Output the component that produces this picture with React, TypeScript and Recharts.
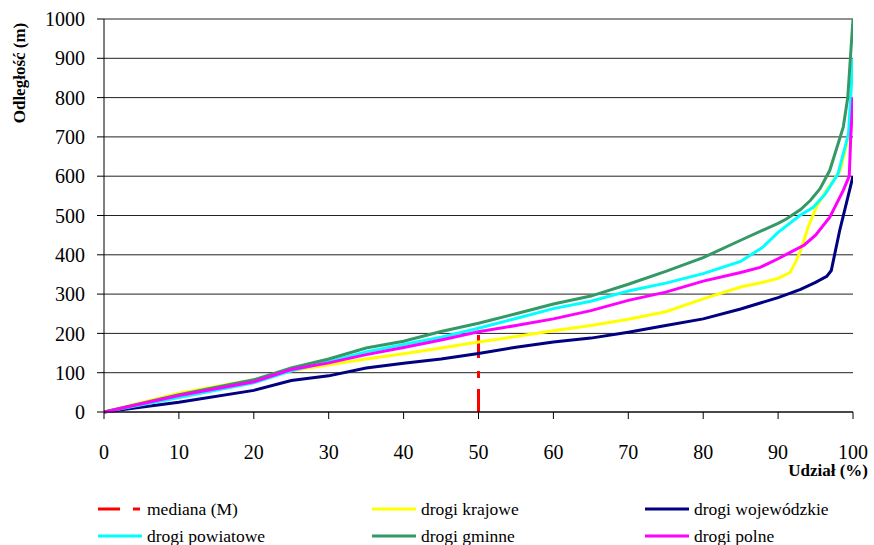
import { LineChart, Line, XAxis, YAxis, CartesianGrid } from 'recharts';

// udział (%) / odległość (m) pairs
const mediana: [number, number][] = [[50, 0], [50, 228]];

const drogiKrajowe: [number, number][] = [
  [0, 0], [10, 48], [20, 82], [25, 105], [30, 120], [35, 135], [40, 148], [45, 163], [50, 178],
  [55, 192], [60, 207], [65, 220], [70, 236], [75, 255], [80, 288], [85, 318], [88, 330], [90, 340],
  [91.6, 355], [92.3, 380], [93, 410], [94, 470], [95.2, 525], [96.5, 565], [98.3, 615], [99.4, 700], [100, 800],
];

const drogiWojewodzkie: [number, number][] = [
  [0, 0], [10, 25], [20, 55], [25, 80], [30, 92], [35, 112], [40, 124], [45, 135], [50, 149],
  [55, 165], [60, 178], [65, 188], [70, 203], [75, 220], [80, 237], [85, 262], [90, 291], [93, 312],
  [95, 330], [96.5, 345], [97.1, 360], [98.2, 460], [100, 600],
];

const drogiPowiatowe: [number, number][] = [
  [0, 0], [10, 37], [20, 74], [25, 105], [30, 128], [35, 153], [40, 172], [45, 190], [50, 213],
  [55, 238], [60, 263], [65, 282], [70, 308], [75, 328], [80, 352], [85, 383], [88, 420], [90, 457],
  [92.9, 500], [94.7, 521], [96.3, 555], [98, 606], [99.4, 708], [100, 900],
];

const drogiGminne: [number, number][] = [
  [0, 0], [10, 44], [20, 82], [25, 112], [30, 135], [35, 163], [40, 180], [45, 205], [50, 226],
  [55, 250], [60, 275], [65, 295], [70, 325], [75, 358], [80, 393], [85, 437], [90, 480], [91.1, 491],
  [93, 515], [94.3, 538], [95.6, 568], [96.9, 615], [98.7, 725], [99.3, 800], [100, 1000],
];

const drogiPolne: [number, number][] = [
  [0, 0], [10, 42], [20, 77], [25, 108], [30, 125], [35, 146], [40, 164], [45, 183], [50, 204],
  [55, 220], [60, 237], [65, 258], [70, 284], [75, 305], [80, 333], [85, 355], [87.6, 368], [90, 390],
  [92, 410], [93.5, 425], [95, 450], [96.9, 496], [98.7, 564], [99.5, 600], [99.7, 700], [100, 800],
];

const xTicks = [0, 10, 20, 30, 40, 50, 60, 70, 80, 90, 100];
const yTicks = [0, 100, 200, 300, 400, 500, 600, 700, 800, 900, 1000];

const toPoints = (pairs: [number, number][]) => pairs.map(([x, y]) => ({ x, y }));

const series = [
  { name: 'drogi krajowe', color: '#FFFF00', pairs: drogiKrajowe },
  { name: 'drogi wojewódzkie', color: '#000080', pairs: drogiWojewodzkie },
  { name: 'drogi powiatowe', color: '#00FFFF', pairs: drogiPowiatowe },
  { name: 'drogi gminne', color: '#339966', pairs: drogiGminne },
  { name: 'drogi polne', color: '#FF00FF', pairs: drogiPolne },
];

const FONT = "'Liberation Serif', Tinos, 'Times New Roman', Times, 'DejaVu Serif', serif";
const MEDIAN_DASH = '23 11 7 13';

const legendRows = [
  [
    { name: 'mediana (M)', color: '#FF0000', dashed: true },
    { name: 'drogi krajowe', color: '#FFFF00' },
    { name: 'drogi wojewódzkie', color: '#000080' },
  ],
  [
    { name: 'drogi powiatowe', color: '#00FFFF' },
    { name: 'drogi gminne', color: '#339966' },
    { name: 'drogi polne', color: '#FF00FF' },
  ],
];
const legendCols = [98, 372, 645];
const legendRowY = [509, 536];

export default function App() {
  return (
    <div style={{ position: 'absolute', left: 0, top: 0, width: 874, height: 545, background: '#fff', fontFamily: FONT }}>
      <LineChart width={874} height={470} margin={{ top: 19, right: 21, bottom: 8, left: 24 }} style={{ fontFamily: FONT }}>
        <CartesianGrid vertical={false} stroke="#222" strokeWidth={1} />
        <XAxis
          dataKey="x"
          type="number"
          domain={[0, 100]}
          ticks={xTicks}
          allowDataOverflow
          height={50}
          tickSize={7}
          tickMargin={26}
          stroke="#000"
          tick={{ fill: '#000', fontSize: 20, fontFamily: FONT }}
        />
        <YAxis
          dataKey="y"
          type="number"
          domain={[0, 1000]}
          ticks={yTicks}
          width={80}
          tickSize={7}
          tickMargin={12}
          stroke="#000"
          tick={{ fill: '#000', fontSize: 20, fontFamily: FONT }}
        />
        <Line
          data={toPoints(mediana)}
          dataKey="y"
          stroke="#FF0000"
          strokeWidth={3}
          strokeDasharray={MEDIAN_DASH}
          dot={false}
          isAnimationActive={false}
        />
        {series.map(s => (
          <Line
            key={s.name}
            data={toPoints(s.pairs)}
            dataKey="y"
            type="linear"
            stroke={s.color}
            strokeWidth={3}
            dot={false}
            isAnimationActive={false}
          />
        ))}
      </LineChart>

      <div
        style={{
          position: 'absolute',
          left: 20,
          top: 73,
          transform: 'translate(-50%, -50%) rotate(-90deg)',
          fontWeight: 'bold',
          fontSize: 17,
          whiteSpace: 'nowrap',
        }}
      >
        Odległość (m)
      </div>
      <div style={{ position: 'absolute', right: 6, top: 461, fontWeight: 'bold', fontSize: 17, whiteSpace: 'nowrap' }}>
        Udział (%)
      </div>

      {legendRows.map((row, r) =>
        row.map((item, c) => (
          <div
            key={item.name}
            style={{
              position: 'absolute',
              left: legendCols[c],
              top: legendRowY[r] - 11,
              height: 22,
              display: 'flex',
              alignItems: 'center',
              fontSize: 17.5,
              whiteSpace: 'nowrap',
            }}
          >
            <svg width={44} height={8} style={{ marginRight: 5 }}>
              <line
                x1={0}
                y1={4}
                x2={44}
                y2={4}
                stroke={item.color}
                strokeWidth={3}
                strokeDasharray={item.dashed ? '22 13 7 20' : undefined}
              />
            </svg>
            <span>{item.name}</span>
          </div>
        ))
      )}
    </div>
  );
}
